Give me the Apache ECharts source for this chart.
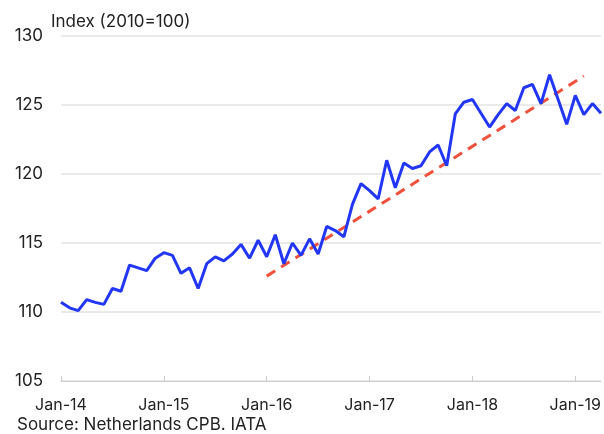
<!DOCTYPE html>
<html>
<head>
<meta charset="utf-8">
<script src="https://cdn.jsdelivr.net/npm/echarts@6/dist/echarts.min.js"></script>
<style>
html,body{margin:0;padding:0;background:#fff;}
#c{width:604px;height:434px;}
</style>
</head>
<body>
<div id="c"></div>
<script>
const months = [];
const mNames = ['Jan','Feb','Mar','Apr','May','Jun','Jul','Aug','Sep','Oct','Nov','Dec'];
for (let y = 14; y <= 19; y++) {
  for (let m = 0; m < 12; m++) {
    if (y === 19 && m > 3) break;
    months.push(mNames[m] + '-' + y);
  }
}
const indexValues = [
  110.7, 110.3, 110.1, 110.9, 110.7, 110.55, 111.7, 111.5, 113.4, 113.2, 113.0, 113.9,
  114.3, 114.1, 112.8, 113.2, 111.7, 113.5, 114.0, 113.7, 114.2, 114.9, 113.9, 115.2,
  114.0, 115.6, 113.5, 115.0, 114.1, 115.3, 114.2, 116.2, 115.9, 115.45, 117.8, 119.3,
  118.8, 118.2, 121.0, 119.0, 120.8, 120.4, 120.6, 121.6, 122.1, 120.6, 124.35, 125.2,
  125.4, 124.4, 123.4, 124.3, 125.1, 124.6, 126.25, 126.5, 125.1, 127.2, 125.4, 123.6,
  125.7, 124.3, 125.1, 124.4
];
const trendPoints = [['Jan-16', 112.6], ['Feb-19', 127.1]];
const yTicks = [105, 110, 115, 120, 125, 130];

const chart = echarts.init(document.getElementById('c'));
const font = 'Inter, Roboto, sans-serif';
chart.setOption({
  animation: false,
  textStyle: { fontFamily: font },
  grid: { left: 61, right: 3, top: 36, bottom: 53 },
  title: {
    text: 'Index (2010=100)', left: 46, top: 8,
    textStyle: { fontSize: 17, fontWeight: 'normal', color: '#222', fontFamily: font }
  },
  graphic: [{
    type: 'text', left: 17, top: 416,
    style: { text: 'Source: Netherlands CPB. IATA', fontSize: 17, fill: '#222', fontFamily: font }
  }],
  xAxis: {
    type: 'category', data: months, boundaryGap: false,
    axisLine: { lineStyle: { color: '#cccccc', width: 1 } },
    axisTick: { interval: 11, inside: true, length: 5, lineStyle: { color: '#cccccc' } },
    axisLabel: { interval: 11, color: '#222', fontSize: 16, margin: 16, fontFamily: font },
    splitLine: { show: false }
  },
  yAxis: {
    type: 'value', min: yTicks[0], max: yTicks[yTicks.length - 1], interval: 5,
    axisLine: { show: false }, axisTick: { show: false },
    axisLabel: { color: '#222', fontSize: 17, margin: 18, fontFamily: font },
    splitLine: { lineStyle: { color: '#e3e3e3', width: 1.5 } }
  },
  series: [
    {
      type: 'line', data: indexValues, symbol: 'none',
      lineStyle: { color: '#2236f5', width: 3 }, z: 3
    },
    {
      type: 'line', data: trendPoints, symbol: 'none',
      lineStyle: { color: '#f0503c', width: 3, type: [10, 7] }, z: 2
    }
  ]
});
</script>
</body>
</html>
